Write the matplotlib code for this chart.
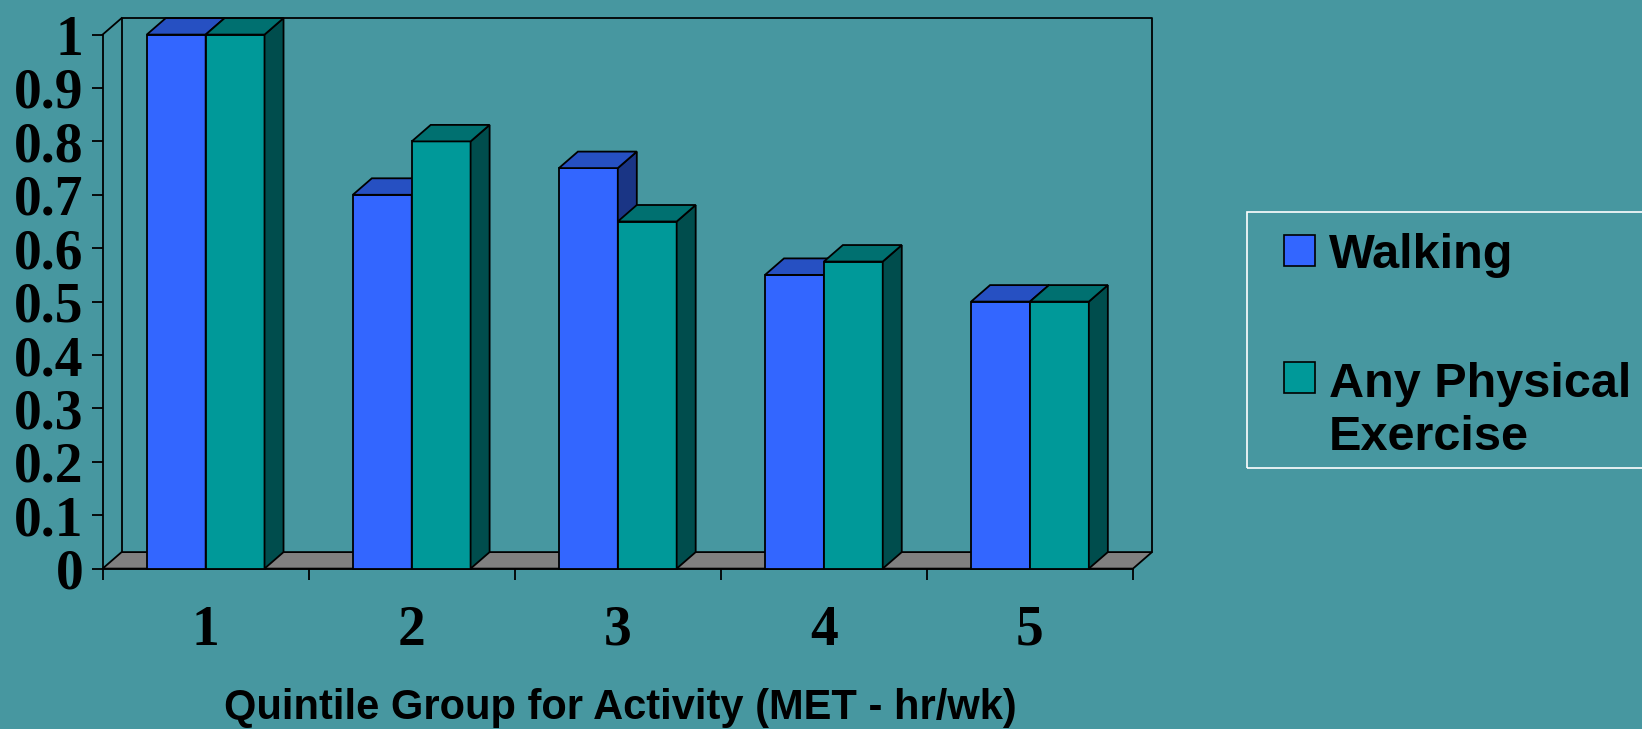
import matplotlib
matplotlib.use("Agg")
import matplotlib.pyplot as plt
from matplotlib.patches import Polygon, Rectangle
from matplotlib.ticker import FixedLocator, FuncFormatter
import numpy as np

# ---- data -------------------------------------------------------------
quintiles = ["1", "2", "3", "4", "5"]
series_names = ["Walking", "Any Physical\nExercise"]
walking = [1.0, 0.70, 0.75, 0.55, 0.50]
any_exercise = [1.0, 0.80, 0.65, 0.575, 0.50]
y_ticks = [0.0, 0.1, 0.2, 0.3, 0.4, 0.5, 0.6, 0.7, 0.8, 0.9, 1.0]
x_title = "Quintile Group for Activity (MET - hr/wk)"

# ---- style ------------------------------------------------------------
BG = "#4797A0"
FLOOR = "#808080"
series_faces = [
    {"front": "#3366FF", "top": "#2650C2", "side": "#1A3585"},
    {"front": "#009999", "top": "#007070", "side": "#004D4D"},
]
EDGE_LW = 1.3
DEPTH_PX = (19.0, 16.5)      # oblique depth of the 3-D box, in pixels
BAR_W = 1.0 / 3.5            # two bars per category, gap = 150 % of a bar

W, H = 1642, 729
fig = plt.figure(figsize=(W / 100, H / 100), dpi=100, facecolor=BG)
ax = fig.add_axes([102.6 / W, 1 - 568.6 / H, 1030.4 / W, 534.0 / H])
ax.set_facecolor("none")
ax.set_xlim(0, len(quintiles))
ax.set_ylim(0, 1)

# depth offset converted into data units
p0 = ax.transData.transform((0, 0))
d = ax.transData.inverted().transform(p0 + np.array(DEPTH_PX))
ddx, ddy = d[0], d[1]
n = len(quintiles)

line_kw = dict(color="black", lw=EDGE_LW, clip_on=False, zorder=0.5,
               solid_capstyle="projecting")
# back wall and left side wall (outlines only)
ax.plot([ddx, ddx, n + ddx, n + ddx], [ddy, 1 + ddy, 1 + ddy, ddy], **line_kw)
ax.plot([0, ddx], [1, 1 + ddy], **line_kw)

# floor
floor = Polygon([(0, 0), (n, 0), (n + ddx, ddy), (ddx, ddy)], closed=True,
                facecolor=FLOOR, edgecolor="black", lw=EDGE_LW,
                clip_on=False, zorder=0.6)
ax.add_patch(floor)

# bars: front faces via ax.bar, top and side faces as oblique polygons
centers = np.arange(n) + 0.5
for s, (vals, faces) in enumerate(zip([walking, any_exercise], series_faces)):
    lefts = centers - BAR_W + s * BAR_W
    ax.bar(lefts, vals, width=BAR_W, align="edge", color=faces["front"],
           edgecolor="black", lw=EDGE_LW, zorder=3 + 3 * s, clip_on=False)
    for x0, v in zip(lefts, vals):
        x1 = x0 + BAR_W
        top = Polygon([(x0, v), (x1, v), (x1 + ddx, v + ddy), (x0 + ddx, v + ddy)],
                      closed=True, facecolor=faces["top"], edgecolor="black",
                      lw=EDGE_LW, clip_on=False, zorder=3 + 3 * s + 1)
        side = Polygon([(x1, 0), (x1, v), (x1 + ddx, v + ddy), (x1 + ddx, ddy)],
                       closed=True, facecolor=faces["side"], edgecolor="black",
                       lw=EDGE_LW, clip_on=False, zorder=3 + 3 * s + 1)
        ax.add_patch(side)
        ax.add_patch(top)

# axes and ticks
for sp in ("top", "right"):
    ax.spines[sp].set_visible(False)
for sp in ("left", "bottom"):
    ax.spines[sp].set_linewidth(EDGE_LW)
    ax.spines[sp].set_zorder(2)

ax.yaxis.set_major_locator(FixedLocator(y_ticks))
ax.yaxis.set_major_formatter(FuncFormatter(lambda v, p: f"{v:g}"))
ax.tick_params(axis="y", length=8, width=EDGE_LW, pad=6, direction="out")
for lab in ax.get_yticklabels():
    lab.set_fontfamily("Liberation Serif")
    lab.set_fontweight("bold")
    lab.set_fontsize(40)

ax.set_xticks(centers)
ax.set_xticklabels(quintiles, fontfamily="Liberation Serif", fontweight="bold",
                   fontsize=40)
ax.tick_params(axis="x", which="major", length=0, pad=26)
ax.xaxis.set_minor_locator(FixedLocator(np.arange(n + 1)))
ax.tick_params(axis="x", which="minor", length=8, width=EDGE_LW, direction="out")

fig.text(620 / W, 1 - 719 / H, x_title, ha="center", va="baseline",
         fontfamily="Liberation Sans", fontweight="bold", fontsize=30)

# legend (baseline given for the last line of each label)
fig.patches.append(Rectangle((1246.5 / W, 1 - 468 / H), 420 / W, (468 - 211.5) / H,
                             transform=fig.transFigure, facecolor="none",
                             edgecolor="white", lw=1.2))
sq = 31
for (sq_top, baseline), name, faces in zip([(235.0, 268.0), (361.5, 450.0)],
                                          series_names, series_faces):
    fig.patches.append(Rectangle((1284 / W, 1 - (sq_top + sq) / H), sq / W, sq / H,
                                 transform=fig.transFigure,
                                 facecolor=faces["front"], edgecolor="black",
                                 lw=1.2))
    fig.text(1329 / W, 1 - baseline / H, name, ha="left", va="baseline",
             fontfamily="Liberation Sans", fontweight="bold", fontsize=35,
             linespacing=1.22)

fig.savefig("out.png", dpi=100, facecolor=BG)
